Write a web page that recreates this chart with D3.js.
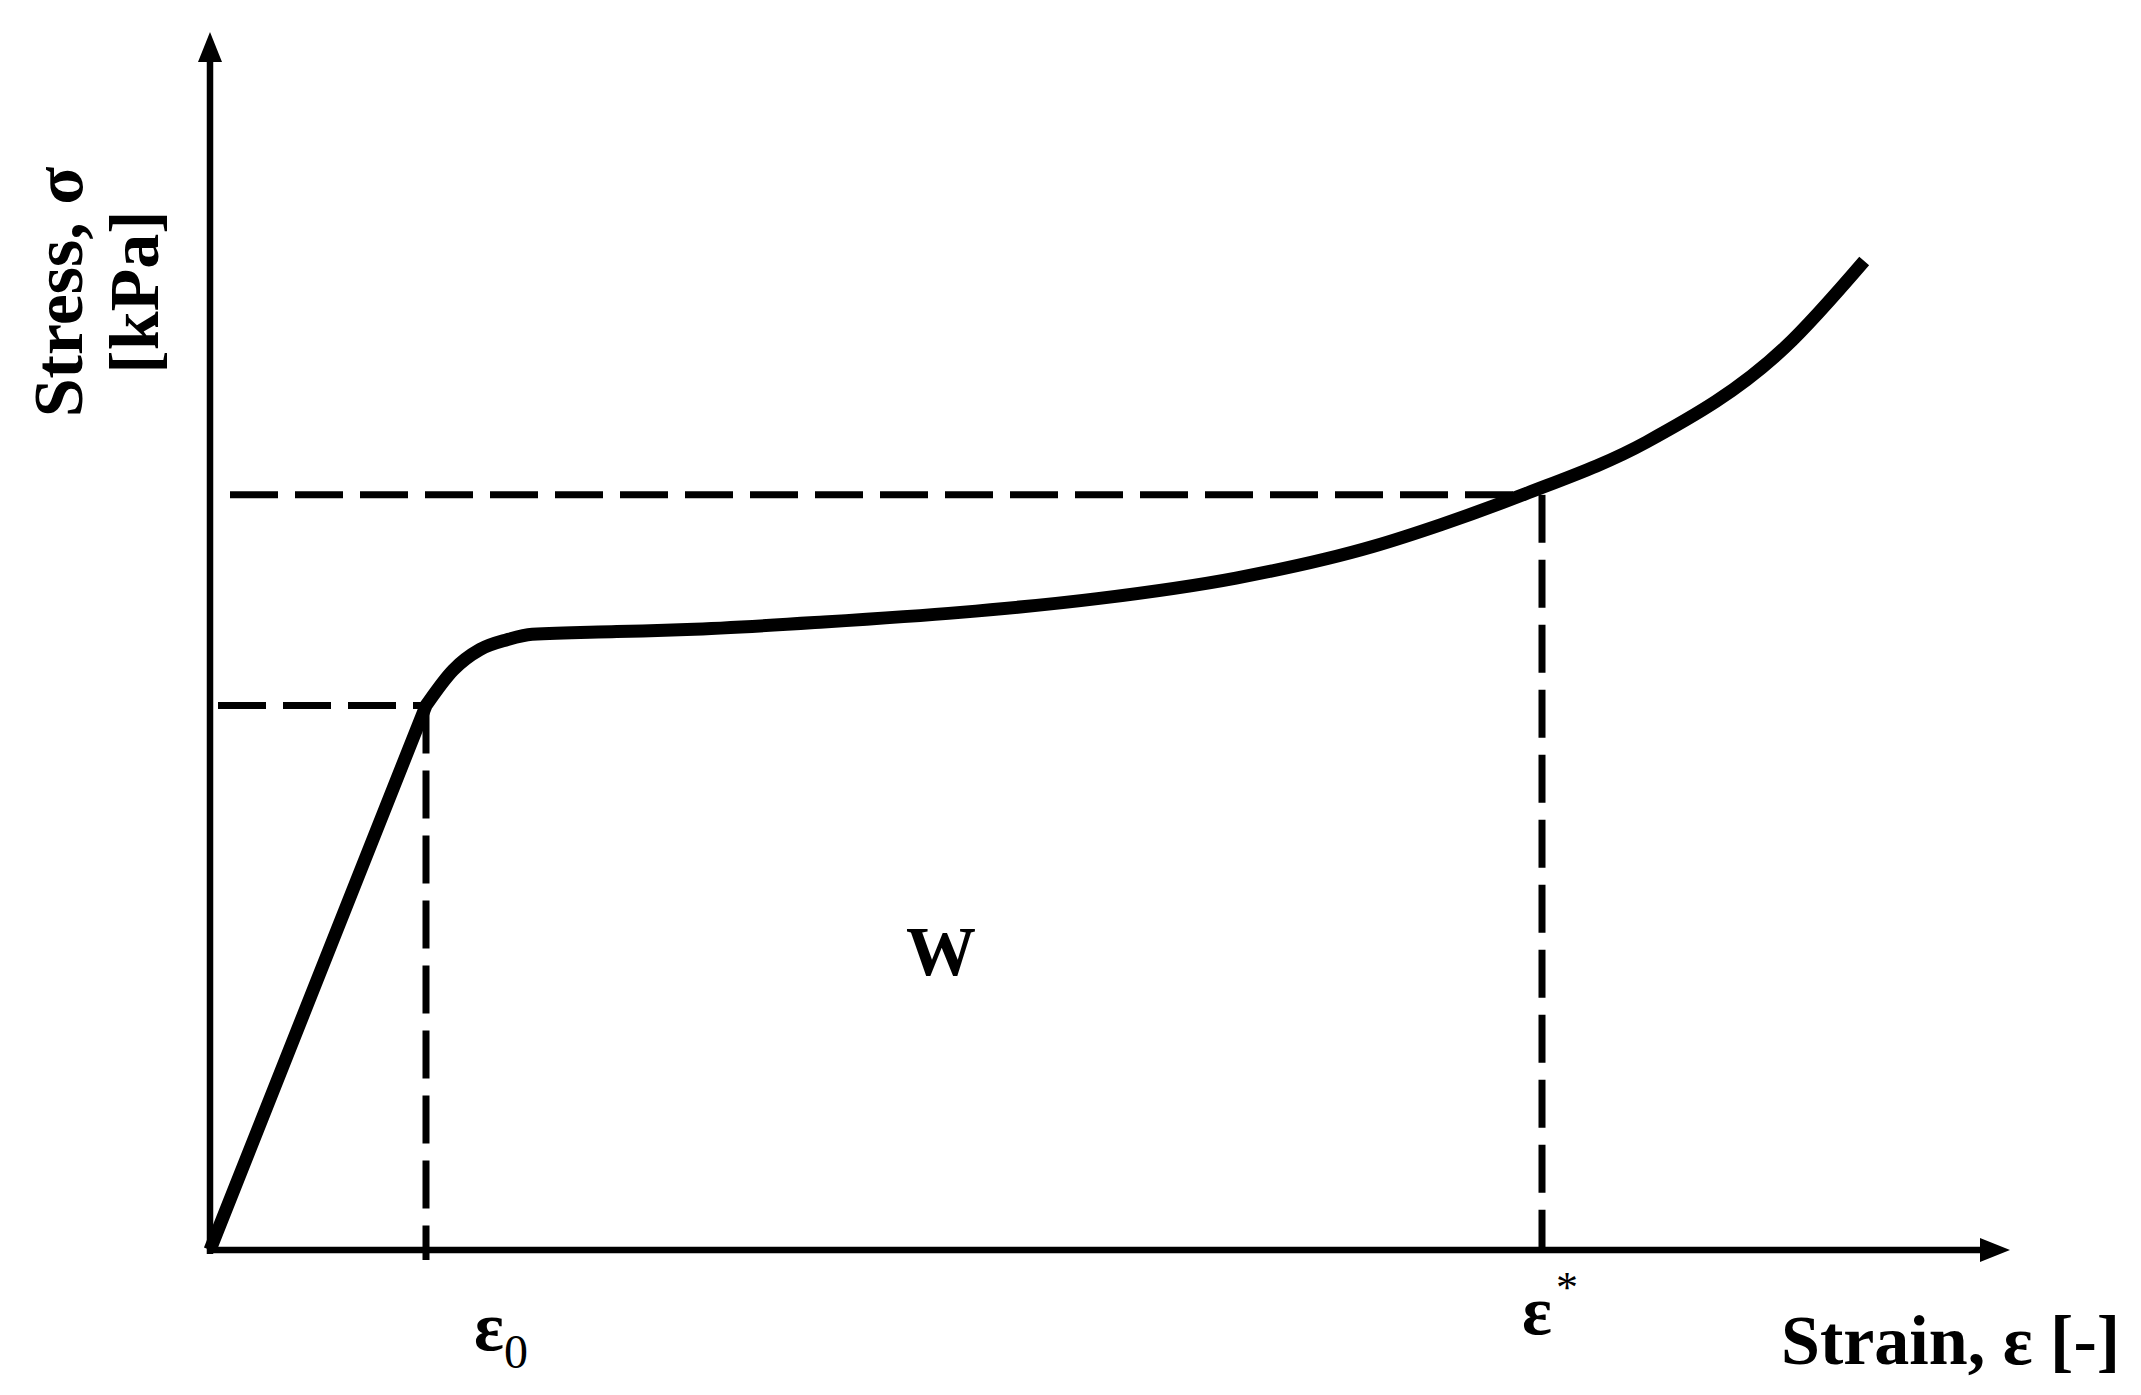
<!DOCTYPE html>
<html>
<head>
<meta charset="utf-8">
<script src="https://cdn.jsdelivr.net/npm/d3@7"></script>
<style>
  body { margin: 0; background: #fff; }
  text { font-family: "Liberation Serif", "DejaVu Serif", serif; font-weight: bold; fill: #000; }
</style>
</head>
<body>
<script>
// schematic stress-strain curve, arbitrary units 0..100 on both axes
var elasticStrain = [0, 12];
var elasticStress = [0, 44.7];
var curveStrain = [12, 13.5, 15, 16.5, 17.9, 22.6, 26.5, 34.1, 41.7, 49.3, 57, 64.6, 68.4, 73, 79.8, 87.5, 91.9];
var curveStress = [44.7, 47.6, 49.3, 50.1, 50.55, 50.77, 50.94, 51.56, 52.35, 53.48, 55.17, 57.76, 59.56, 62.04, 66.33, 74.11, 81.2];
var strainMarks = [12, 74.0];     // eps0, eps*
var stressMarks = [44.7, 62.0];   // sigma at eps0, sigma at eps*
var stressMeet = [12, 72.6];      // where the horizontal guides hit the curve

var width = 2141, height = 1395;

var svg = d3.select("body").append("svg")
    .attr("width", width)
    .attr("height", height)

var x = d3.scaleLinear().domain([0, 100]).range([210, 2010]);
var y = d3.scaleLinear().domain([0, 100]).range([1250, 32]);

// dashed guide lines
var dash = "48 17";
function guide(x1, y1, x2, y2){
    svg.append("line")
        .attr("x1", x1).attr("y1", y1)
        .attr("x2", x2).attr("y2", y2)
        .attr("stroke", "#000")
        .attr("stroke-width", 7)
        .attr("stroke-dasharray", dash)
}
guide(x(0) + 8, y(stressMarks[0]), x(stressMeet[0]), y(stressMarks[0]))
guide(x(strainMarks[0]), y(stressMarks[0]), x(strainMarks[0]), y(0) + 10)
guide(x(0) + 20, y(stressMarks[1]), x(stressMeet[1]), y(stressMarks[1]))
guide(x(strainMarks[1]), y(stressMarks[1]), x(strainMarks[1]), y(0))

// axes with arrow heads
svg.append("line")
    .attr("x1", x(0)).attr("x2", x(0))
    .attr("y1", y(0) + 4).attr("y2", y(100) + 25)
    .attr("stroke", "#000").attr("stroke-width", 6.5)
svg.append("path")
    .attr("d", "M" + (x(0) - 12) + "," + (y(100) + 30) + "L" + x(0) + "," + y(100) + "L" + (x(0) + 12) + "," + (y(100) + 30) + "Z")
    .attr("fill", "#000")
svg.append("line")
    .attr("x1", x(0) - 3).attr("x2", x(100) - 25)
    .attr("y1", y(0)).attr("y2", y(0))
    .attr("stroke", "#000").attr("stroke-width", 6.5)
svg.append("path")
    .attr("d", "M" + (x(100) - 30) + "," + (y(0) - 12) + "L" + x(100) + "," + y(0) + "L" + (x(100) - 30) + "," + (y(0) + 12) + "Z")
    .attr("fill", "#000")

// the curve: straight elastic part, then smooth plateau + densification
var straight = d3.line()
    .x(function(d, i){ return x(elasticStrain[i]) })
    .y(function(d, i){ return y(elasticStress[i]) })
var smooth = d3.line()
    .curve(d3.curveMonotoneX)
    .x(function(d, i){ return x(curveStrain[i]) })
    .y(function(d, i){ return y(curveStress[i]) })
var d = straight(elasticStrain) + smooth(curveStrain).replace(/^M/, "L");
svg.append("path")
    .attr("d", d)
    .attr("fill", "none")
    .attr("stroke", "#000")
    .attr("stroke-width", 13)
    .attr("stroke-linejoin", "round")

// labels
var fs = 70;
var e0 = svg.append("text")
    .attr("x", x(strainMarks[0]) + 48)
    .attr("y", 1350)
    .attr("font-size", fs)
e0.append("tspan").text("ε")
e0.append("tspan").attr("font-size", 48).attr("font-weight", "normal").attr("dy", 18).text("0")

var es = svg.append("text")
    .attr("x", x(strainMarks[1]) - 20)
    .attr("y", 1334)
    .attr("font-size", fs)
es.append("tspan").text("ε")
es.append("tspan").attr("font-size", 44).attr("font-weight", "normal").attr("dy", -32).attr("dx", 4).text("*")

svg.append("text")
    .attr("x", 2120)
    .attr("y", 1364)
    .attr("text-anchor", "end")
    .attr("font-size", fs)
    .text("Strain, ε [-]")

svg.append("text")
    .attr("x", 941)
    .attr("y", 975)
    .attr("text-anchor", "middle")
    .attr("font-size", fs)
    .text("W")

var yl = svg.append("text")
    .attr("transform", "translate(82,292) rotate(-90)")
    .attr("text-anchor", "middle")
    .attr("font-size", fs)
yl.append("tspan").attr("x", 0).attr("y", 0).text("Stress, σ")
yl.append("tspan").attr("x", 0).attr("y", 76).text("[kPa]")
</script>
</body>
</html>
